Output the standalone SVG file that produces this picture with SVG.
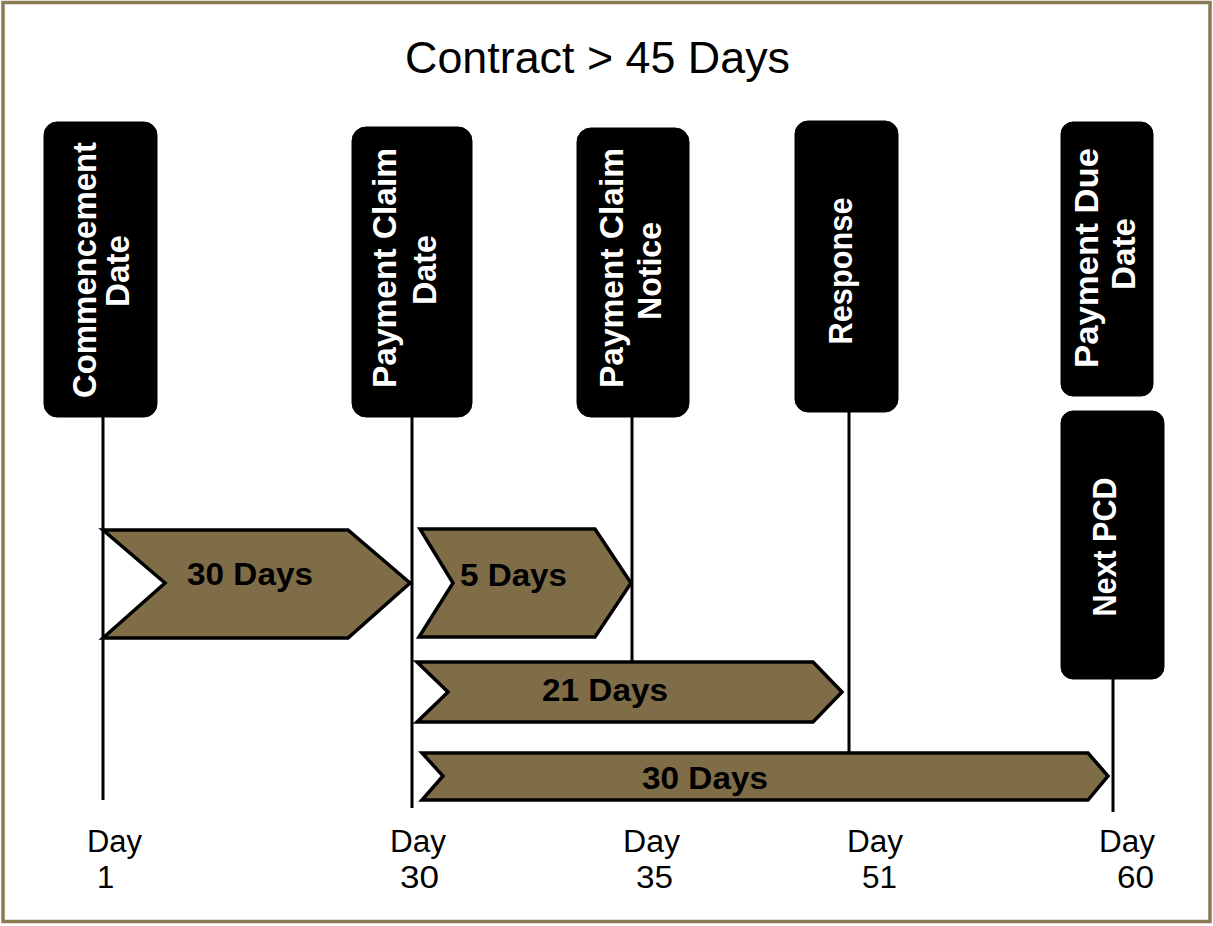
<svg xmlns="http://www.w3.org/2000/svg" width="1213" height="926" viewBox="0 0 1213 926">
<style>
.frame{fill:#fff;stroke:#8b7b55;stroke-width:3.5}
.box{fill:#000;stroke:#000;stroke-width:1}
.bt{fill:#fff;font-family:"Liberation Sans",Arial,sans-serif;font-weight:bold;font-size:33px;text-anchor:middle}
.arr{fill:#7f6d48;stroke:#000;stroke-width:3.5;stroke-linejoin:miter}
.at{fill:#000;font-family:"Liberation Sans",Arial,sans-serif;font-weight:bold;font-size:32px}
.ln{stroke:#000;stroke-width:3;fill:none}
.day{fill:#000;font-family:"Liberation Sans",Arial,sans-serif;font-size:31px}
.title{fill:#000;font-family:"Liberation Sans",Arial,sans-serif;font-size:45px}
</style>
<rect class="frame" x="3" y="2.5" width="1207" height="919"/>
<text class="title" x="405" y="73" textLength="385" lengthAdjust="spacingAndGlyphs">Contract &gt; 45 Days</text>

<g id="connectors">
<line class="ln" x1="103" y1="416" x2="103" y2="800"/>
<line class="ln" x1="412" y1="416" x2="412" y2="808"/>
<line class="ln" x1="632" y1="416" x2="632" y2="662"/>
<line class="ln" x1="849" y1="410" x2="849" y2="753"/>
<line class="ln" x1="1113" y1="678" x2="1113" y2="812"/>
</g>

<g id="arrow-30-days-a">
<polygon class="arr" points="103,530 348,530 410,583 348,638 103,638 165,583"/>
<text class="at" x="187" y="585" textLength="126" lengthAdjust="spacingAndGlyphs">30 Days</text>
</g>
<g id="arrow-5-days">
<polygon class="arr" points="420,529 595,529 631,583 595,637 419,637 453,583"/>
<text class="at" x="460" y="586" textLength="107" lengthAdjust="spacingAndGlyphs">5 Days</text>
</g>
<g id="arrow-21-days">
<polygon class="arr" points="417,662 813,662 842,692 813,722 417,722 448,692"/>
<text class="at" x="542" y="701" textLength="126" lengthAdjust="spacingAndGlyphs">21 Days</text>
</g>
<g id="arrow-30-days-b">
<polygon class="arr" points="422,753 1088,753 1108,776 1088,800 422,800 443,776"/>
<text class="at" x="642" y="789" textLength="126" lengthAdjust="spacingAndGlyphs">30 Days</text>
</g>

<g id="node-commencement">
<rect class="box" x="44" y="122" width="113" height="295" rx="13"/>
<text class="bt" transform="translate(96,270) rotate(-90)" textLength="256" lengthAdjust="spacingAndGlyphs">Commencement</text>
<text class="bt" transform="translate(129,271) rotate(-90)" textLength="72" lengthAdjust="spacingAndGlyphs">Date</text>
</g>
<g id="node-pcd">
<rect class="box" x="352" y="127" width="120" height="290" rx="14"/>
<text class="bt" transform="translate(396,268) rotate(-90)" textLength="240" lengthAdjust="spacingAndGlyphs">Payment Claim</text>
<text class="bt" transform="translate(436,270) rotate(-90)" textLength="70" lengthAdjust="spacingAndGlyphs">Date</text>
</g>
<g id="node-pcn">
<rect class="box" x="577" y="128" width="112" height="289" rx="14"/>
<text class="bt" transform="translate(623,268) rotate(-90)" textLength="240" lengthAdjust="spacingAndGlyphs">Payment Claim</text>
<text class="bt" transform="translate(661,271) rotate(-90)" textLength="98" lengthAdjust="spacingAndGlyphs">Notice</text>
</g>
<g id="node-response">
<rect class="box" x="795" y="121" width="103" height="291" rx="13"/>
<text class="bt" transform="translate(852,271) rotate(-90)" textLength="147" lengthAdjust="spacingAndGlyphs">Response</text>
</g>
<g id="node-pdd">
<rect class="box" x="1061" y="122" width="92" height="274" rx="12"/>
<text class="bt" transform="translate(1098,258) rotate(-90)" textLength="220" lengthAdjust="spacingAndGlyphs">Payment Due</text>
<text class="bt" transform="translate(1135,254) rotate(-90)" textLength="72" lengthAdjust="spacingAndGlyphs">Date</text>
</g>
<g id="node-next-pcd">
<rect class="box" x="1061" y="411" width="103" height="268" rx="12"/>
<text class="bt" transform="translate(1116,547) rotate(-90)" textLength="139" lengthAdjust="spacingAndGlyphs">Next PCD</text>
</g>

<g id="day-labels">
<text class="day" x="87" y="852" textLength="55" lengthAdjust="spacingAndGlyphs">Day</text><text class="day" x="97" y="888">1</text>
<text class="day" x="390" y="852" textLength="56" lengthAdjust="spacingAndGlyphs">Day</text><text class="day" x="400" y="888" textLength="39" lengthAdjust="spacingAndGlyphs">30</text>
<text class="day" x="623" y="852" textLength="57" lengthAdjust="spacingAndGlyphs">Day</text><text class="day" x="636" y="888" textLength="37" lengthAdjust="spacingAndGlyphs">35</text>
<text class="day" x="847" y="852" textLength="56" lengthAdjust="spacingAndGlyphs">Day</text><text class="day" x="862" y="888" textLength="35" lengthAdjust="spacingAndGlyphs">51</text>
<text class="day" x="1099" y="852" textLength="56" lengthAdjust="spacingAndGlyphs">Day</text><text class="day" x="1117" y="888" textLength="37" lengthAdjust="spacingAndGlyphs">60</text>
</g>
</svg>
